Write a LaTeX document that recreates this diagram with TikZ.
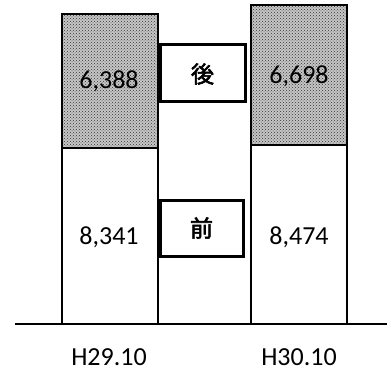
\documentclass[tikz,border=0pt]{standalone}
\usepackage{fontspec}
\setmainfont{Carlito}
\newfontfamily\jpfont[AutoFakeBold=2.5]{Noto Sans CJK JP}
\usetikzlibrary{patterns}

\tikzset{
  barline/.style={line width=1.2pt},
  dotfill/.style={pattern=crosshatch dots, pattern color=black!80},
  tagbox/.style={line width=3pt},
  numlabel/.style={font=\fontsize{26}{26}\selectfont},
  taglabel/.style={font=\jpfont\bfseries\fontsize{23}{23}\selectfont}
}

\begin{document}
\begin{tikzpicture}[x=1pt, y=-1pt]
      \useasboundingbox (0, 0) rectangle (387, 371);
        %%H29.10 bar
        \fill[gray!45](62, 14) rectangle (158, 148);
        \fill[dotfill](62, 14) rectangle (158, 148);
        \draw[barline](62, 324) -- (62, 14) -- (158, 14) -- (158, 324);
        \draw[barline](62, 148) to (158, 148);
        \node[numlabel] (a29) at (109, 81){6,388};
        \node[numlabel] (b29) at (109, 237){8,341};
        %%H30.10 bar
        \fill[gray!45](251, 5) rectangle (347, 145);
        \fill[dotfill](251, 5) rectangle (347, 145);
        \draw[barline](251, 324) -- (251, 5) -- (347, 5) -- (347, 324);
        \draw[barline](251, 145) to (347, 145);
        \node[numlabel] (a30) at (299, 76){6,698};
        \node[numlabel] (b30) at (299, 237){8,474};
        %%tags
        \draw[tagbox, fill=white](160, 45) rectangle (245, 102);
        \node[taglabel] (after) at (202.5, 74){後};
        \draw[tagbox, fill=white](160, 200) rectangle (243, 256);
        \node[taglabel] (before) at (201.5, 228){前};
        %%axis
        \draw[barline](15, 324) to (387, 324);
        \node[numlabel] (y29) at (109, 357){H29.10};
        \node[numlabel] (y30) at (299, 357){H30.10};
\end{tikzpicture}
\end{document}
